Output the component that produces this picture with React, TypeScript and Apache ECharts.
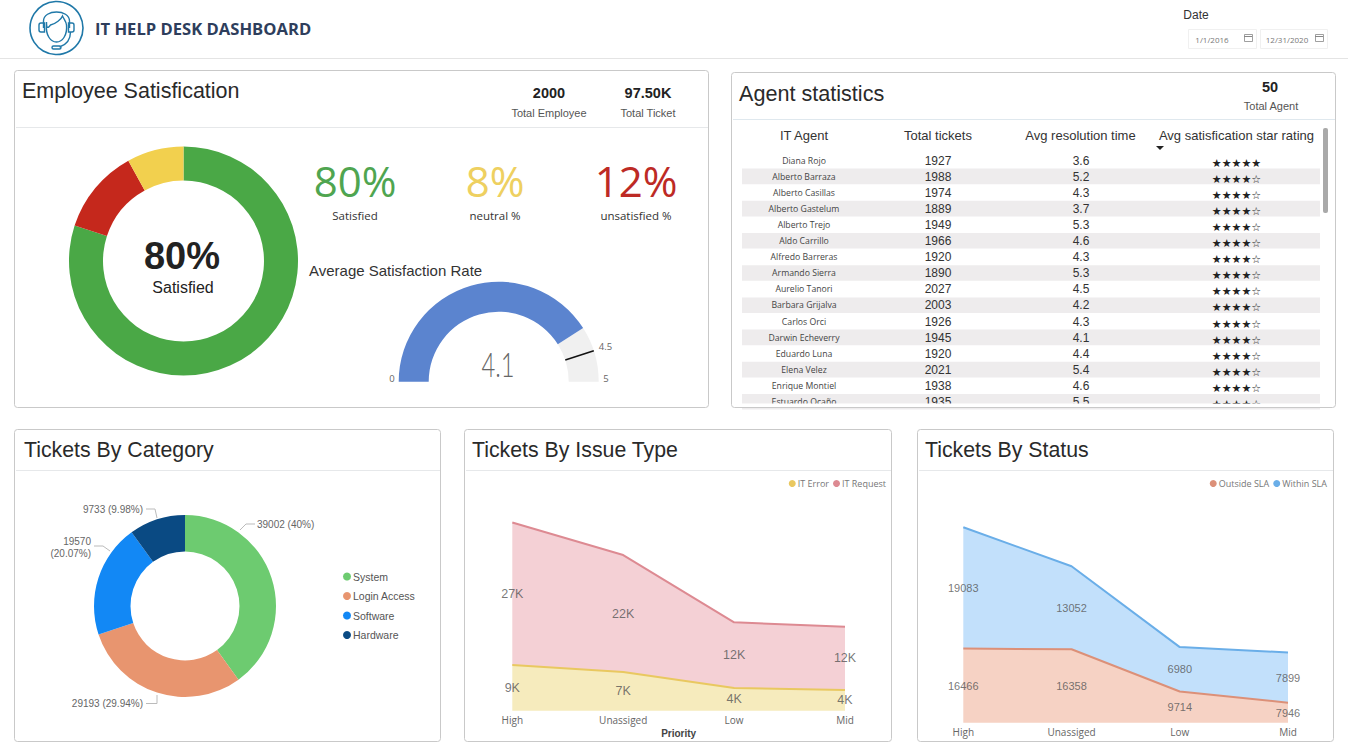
import React, { useEffect, useRef } from "react";
import * as echarts from "echarts";

const satisfactionNames = ["Satisfied", "Unsatisfied", "Neutral"];
const satisfactionValues = [80, 12, 8];
const satisfactionColors = ["#4aa846", "#c5281c", "#f2d04e"];

const gaugeValue = 4.1;
const gaugeTarget = 4.5;
const gaugeMax = 5;

const agents = ["Diana Rojo", "Alberto Barraza", "Alberto Casillas", "Alberto Gastelum", "Alberto Trejo", "Aldo Carrillo", "Alfredo Barreras", "Armando Sierra", "Aurelio Tanori", "Barbara Grijalva", "Carlos Orci", "Darwin Echeverry", "Eduardo Luna", "Elena Velez", "Enrique Montiel", "Estuardo Ocaño"];
const agentTickets = [1927, 1988, 1974, 1889, 1949, 1966, 1920, 1890, 2027, 2003, 1926, 1945, 1920, 2021, 1938, 1935];
const agentResolution = ["3.6", "5.2", "4.3", "3.7", "5.3", "4.6", "4.3", "5.3", "4.5", "4.2", "4.3", "4.1", "4.4", "5.4", "4.6", "5.5"];
const agentStars = [5, 4, 4, 4, 4, 4, 4, 4, 4, 4, 4, 4, 4, 4, 4, 4];
const tableHeaders = ["IT Agent", "Total tickets", "Avg resolution time", "Avg satisfication star rating"];

const categoryNames = ["System", "Login Access", "Software", "Hardware"];
const categoryValues = [39002, 29193, 19570, 9733];
const categoryColors = ["#6dcb70", "#e8956f", "#1288f5", "#0a4a83"];

const priorities = ["High", "Unassiged", "Low", "Mid"];
const itError = [8640, 7320, 4300, 3900];
const itRequest = [26909, 22090, 12394, 11945];
const outsideSla = [16466, 16358, 9714, 7946];
const withinSla = [19083, 13052, 6980, 7899];

const SANS = "'Liberation Sans', Arial, sans-serif";
const OPEN = "'Open Sans', sans-serif";
const LOGO_D =
  "M14 20 C14 8 40 8 40 20 L40 27 M14 27 L14 20 " +
  "M17 21 C17 27 18 28 21 24 C26 23 32 18 33 15 C35 19 37 21 37 24 C38 34 33 41 27 41 C21 41 16 34 17 24 L17 21 " +
  "M11.5 22 L15 22 L15 31 L11.5 31 C10 31 9.5 30 9.5 29 L9.5 24 C9.5 23 10 22 11.5 22 Z " +
  "M39 22 L42.5 22 C44 22 44.5 23 44.5 24 L44.5 29 C44.5 30 44 31 42.5 31 L39 31 Z " +
  "M41 31 C41 40 36 44 30 46 M24 45 L30 45 C32 45 32 48 30 48 L24 48 C22 48 22 45 24 45 Z";

const txt = (x: number, y: number, text: string, fontSize: number, fill: string, o: any = {}) => ({
  type: "text",
  z: o.z ?? 5,
  silent: true,
  style: {
    x, y, text, fontSize, fill,
    fontFamily: o.font ?? SANS,
    fontWeight: o.weight ?? "normal",
    align: o.align ?? "center",
    verticalAlign: "middle",
    textAlign: o.align ?? "center",
    textVerticalAlign: "middle",
  },
});

const panel = (x: number, y: number, width: number, height: number, divider: number, dividerColor = "#e6e8ea") => [
  { type: "line", z: 1, silent: true, shape: { x1: x + 1, y1: divider + 0.5, x2: x + width - 1, y2: divider + 0.5 }, style: { stroke: dividerColor, lineWidth: 1 } },
  { type: "rect", z: 9, silent: true, shape: { x: x - 0.5, y: y - 0.5, width, height, r: 3 }, style: { fill: "none", stroke: "#c9c9c9", lineWidth: 1 } },
];

const dateBox = (x: number, width: number, label: string, textX: number, iconX: number) => [
  { type: "rect", z: 1, silent: true, shape: { x: x + 0.5, y: 29.5, width, height: 19 }, style: { fill: "#fff", stroke: "#f0f0f0", lineWidth: 1 } },
  txt(textX, 39, label, 8, "#777777", { font: OPEN }),
  { type: "rect", z: 5, silent: true, shape: { x: iconX + 0.5, y: 34.5, width: 8, height: 7 }, style: { fill: "none", stroke: "#888", lineWidth: 0.8 } },
  { type: "line", z: 5, silent: true, shape: { x1: iconX, y1: 36.5, x2: iconX + 8, y2: 36.5 }, style: { stroke: "#888", lineWidth: 1 } },
];

const ROW_TOP = 160.5;
const ROW_STEP = 16.1;
const tableGraphics = () => {
  const items: any[] = [];
  const headerX = [804, 938, 1080.5, 1236.5];
  tableHeaders.forEach((h, i) => items.push(txt(headerX[i], 135.5, h, 13, "#333333")));
  agents.forEach((name, i) => {
    const y = ROW_TOP + i * ROW_STEP;
    if (i % 2 === 1) {
      items.push({ type: "rect", z: 1, silent: true, shape: { x: 742, y: y - 8, width: 578, height: 15.6 }, style: { fill: "#eeeced" } });
    }
    items.push(txt(804, y, name, 8.7, "#444444", { font: OPEN }));
    items.push(txt(938, y, String(agentTickets[i]), 12, "#333333"));
    items.push(txt(1081, y, agentResolution[i], 12, "#333333"));
    items.push(txt(1236.5, y + 2.5, "★".repeat(agentStars[i]) + "☆".repeat(5 - agentStars[i]), 11, "#222222", { font: "'DejaVu Sans', sans-serif" }));
  });
  items.push({ type: "rect", z: 7, silent: true, shape: { x: 734, y: 403.5, width: 600, height: 4 }, style: { fill: "#ffffff" } });
  items.push({ type: "rect", z: 7, silent: true, shape: { x: 1323, y: 128, width: 5, height: 85, r: 2 }, style: { fill: "#a9a9a9" } });
  items.push({ type: "polygon", z: 7, silent: true, shape: { points: [[1156, 146], [1164, 146], [1160, 150]] }, style: { fill: "#222" } });
  return items;
};

const bandLabels = (values: number[], below: number[] | null, axisMin: number) =>
  values.map((v, i) => {
    const base = below ? below[i] : 0;
    const low = below ? base : axisMin;
    return { value: [i, (low + base + v) / 2, v] };
  });

const k = (v: number) => `${Math.round(v / 1000)}K`;

const area = (name: string, values: number[], idx: number, line: string, fill: string, stack: string) => ({
  name, type: "line", stack, data: values, xAxisIndex: idx, yAxisIndex: idx, symbol: "none",
  color: line, lineStyle: { color: line, width: 2 }, areaStyle: { color: fill, opacity: 1 }, silent: true, clip: false,
});

const bandSeries = (idx: number, data: any[], fontSize: number, format: (v: number) => string, id: string) => ({
  name: id, type: "scatter", xAxisIndex: idx, yAxisIndex: idx, symbolSize: 1, z: 6, silent: true,
  itemStyle: { color: "transparent" }, data,
  label: { show: true, position: "inside", color: "#555555", fontSize, fontFamily: SANS, formatter: (p: any) => format(p.value[2]) },
});

const catAxis = (gridIndex: number, extra: any = {}) => ({
  type: "category", gridIndex, data: priorities, boundaryGap: false,
  axisLine: { show: false }, axisTick: { show: false },
  axisLabel: { color: "#666666", fontSize: 10, fontFamily: OPEN, interval: 0, margin: 4 },
  ...extra,
});

const legendBase = { icon: "circle", itemWidth: 7, itemHeight: 7, itemGap: 4, orient: "horizontal", selectedMode: false, textStyle: { color: "#777777", fontSize: 9, fontFamily: OPEN, padding: [0, 0, 0, -3] } };

const categoryTotal = categoryValues.reduce((a, b) => a + b, 0);
const categoryLabel = (p: any) => {
  const share = +((p.value / categoryTotal) * 100).toFixed(2);
  return `${p.value}${p.dataIndex === 2 ? "\n" : " "}(${share}%)`;
};

export default function App() {
  const ref = useRef<HTMLDivElement>(null);
  useEffect(() => {
    document.body.style.margin = "0";
    document.documentElement.style.overflow = "hidden";
    echarts.graphic.registerShape("logo", echarts.graphic.extendPath(LOGO_D as any, {}));
    const chart = echarts.init(ref.current!, undefined, { renderer: "svg" });
    const labelSpots: any[] = [
      { x: 257, y: 524, align: "left", verticalAlign: "middle", labelLinePoints: [[240, 530], [246, 524], [255, 524]] },
      { x: 143, y: 703.5, align: "right", verticalAlign: "middle", labelLinePoints: [[157, 695], [157, 703.5], [146, 703.5]] },
      { x: 91, y: 547, align: "right", verticalAlign: "middle", labelLinePoints: [[110, 551], [103, 546], [94, 546]] },
      { x: 143, y: 509, align: "right", verticalAlign: "middle", labelLinePoints: [[157, 518], [155, 509], [146, 509]] },
    ];
    chart.setOption({
      animation: false,
      backgroundColor: "#ffffff",
      legend: [
        { ...legendBase, orient: "vertical", left: 338, top: 566, itemWidth: 8, itemHeight: 8, itemGap: 8.5, data: categoryNames, textStyle: { color: "#555555", fontSize: 10.5, fontFamily: SANS, padding: [0, 0, 0, -3] } },
        { ...legendBase, right: 457, top: 474, data: ["IT Error", "IT Request"] },
        { ...legendBase, right: 16, top: 474, data: ["Outside SLA", "Within SLA"] },
      ],
      grid: [
        { left: 512.3, width: 332.7, top: 499, height: 211.7 },
        { left: 963.3, width: 324.7, top: 499, height: 223.7 },
      ],
      xAxis: [
        catAxis(0, { name: "Priority", nameLocation: "middle", nameGap: 17.5, nameTextStyle: { color: "#444444", fontSize: 10, fontWeight: "bold", fontFamily: SANS } }),
        catAxis(1),
      ],
      yAxis: [
        { type: "value", gridIndex: 0, show: false, min: 0, max: 40000 },
        { type: "value", gridIndex: 1, show: false, min: 4800, max: 40000 },
      ],
      series: [
        {
          name: "Satisfaction", type: "pie", center: [183.5, 261], radius: [80.5, 114.5], silent: true,
          label: { show: false }, labelLine: { show: false },
          data: satisfactionNames.map((name, i) => ({ name, value: satisfactionValues[i], itemStyle: { color: satisfactionColors[i] } })),
        },
        {
          name: "Average rate", type: "gauge", center: [498.7, 381.7], radius: 100, startAngle: 180, endAngle: 0, min: 0, max: gaugeMax, silent: true,
          axisLine: { roundCap: false, lineStyle: { width: 30, color: [[gaugeValue / gaugeMax, "#5b84cf"], [1, "#f0f0f0"]] } },
          axisTick: { show: false }, splitLine: { show: false }, axisLabel: { show: false }, pointer: { show: false }, title: { show: false }, detail: { show: false },
          data: [{ value: gaugeValue }],
        },
        {
          name: "Target", type: "gauge", center: [498.7, 381.7], radius: 100, startAngle: 180, endAngle: 0, min: 0, max: gaugeMax, silent: true, z: 4,
          axisLine: { show: false }, axisTick: { show: false }, splitLine: { show: false }, axisLabel: { show: false }, title: { show: false }, detail: { show: false },
          pointer: { show: true, icon: "rect", length: "30%", width: 1.5, offsetCenter: [0, "-70%"], itemStyle: { color: "#111111" } },
          data: [{ value: gaugeTarget }],
        },
        {
          name: "Tickets By Category", type: "pie", center: [185, 606], radius: [54.5, 91], silent: true,
          label: { show: true, formatter: categoryLabel, color: "#666666", fontSize: 10, fontFamily: SANS, lineHeight: 12 },
          labelLine: { show: true, length: 8, length2: 8, lineStyle: { color: "#bbbbbb", width: 1 } },
          labelLayout: (p: any) => labelSpots[p.dataIndex],
          data: categoryNames.map((name, i) => ({ name, value: categoryValues[i], itemStyle: { color: categoryColors[i] } })),
        },
        area("IT Error", itError, 0, "#e9c860", "#f6ebbd", "issue"),
        area("IT Request", itRequest, 0, "#dd8a92", "#f4d0d5", "issue"),
        bandSeries(0, bandLabels(itError, null, 0), 12.5, k, "issue-low"),
        bandSeries(0, bandLabels(itRequest, itError, 0), 12.5, k, "issue-high"),
        area("Outside SLA", outsideSla, 1, "#dc9078", "#f6d2c4", "status"),
        area("Within SLA", withinSla, 1, "#6aaee8", "#c2e0fb", "status"),
        bandSeries(1, bandLabels(outsideSla, null, 4800), 11, String, "status-low"),
        bandSeries(1, bandLabels(withinSla, outsideSla, 4800), 11, String, "status-high"),
      ],
      graphic: [
        { type: "line", z: 1, silent: true, shape: { x1: 0, y1: 58.5, x2: 1348, y2: 58.5 }, style: { stroke: "#e4e4e4", lineWidth: 1 } },
        { type: "circle", z: 5, silent: true, shape: { cx: 56.5, cy: 28, r: 26.5 }, style: { fill: "#fff", stroke: "#1f78a8", lineWidth: 1.6 } },
        { type: "logo", z: 6, silent: true, x: 29.5, y: 1, style: { fill: "none", stroke: "#1f78a8", lineWidth: 1.4 } },
        txt(95, 28, "IT HELP DESK DASHBOARD", 16.6, "#2e3e5c", { font: OPEN, weight: "bold", align: "left" }),
        txt(1196, 15, "Date", 12, "#333333"),
        ...dateBox(1188, 68, "1/1/2016", 1212, 1244),
        ...dateBox(1260, 67, "12/31/2020", 1287, 1315),

        ...panel(15, 71, 694, 337, 127),
        txt(22, 91, "Employee Satisfication", 21.5, "#2a2a2a", { align: "left" }),
        txt(549, 93, "2000", 14.5, "#222222", { weight: "bold" }),
        txt(549, 112.5, "Total Employee", 11, "#555555"),
        txt(648, 93, "97.50K", 14.5, "#222222", { weight: "bold" }),
        txt(648, 113, "Total Ticket", 11, "#555555"),
        txt(182, 256, "80%", 38, "#222222", { weight: "bold" }),
        txt(183, 287, "Satisfied", 16, "#222222"),
        txt(355, 180.5, "80%", 42, "#4fa550", { font: OPEN }),
        txt(495, 180.5, "8%", 42, "#eed060", { font: OPEN }),
        txt(636, 180.5, "12%", 42, "#bd2a25", { font: OPEN }),
        txt(355, 215.5, "Satisfied", 11.5, "#333333", { font: OPEN }),
        txt(495, 215.5, "neutral %", 11.5, "#333333", { font: OPEN }),
        txt(636, 215.5, "unsatisfied %", 11.5, "#333333", { font: OPEN }),
        txt(309, 270, "Average Satisfaction Rate", 15, "#333333", { align: "left" }),
        { ...txt(0, 0, gaugeValue.toFixed(1), 34, "#666666", { font: "Lato, sans-serif", weight: 300 }), x: 498, y: 364, scaleX: 0.7 },
        txt(392, 378, "0", 9.5, "#666666", { font: OPEN }),
        txt(606, 378, "5", 9.5, "#666666", { font: OPEN }),
        txt(605.5, 346, gaugeTarget.toFixed(1), 9.5, "#666666", { font: OPEN }),

        ...panel(732, 73, 604, 335, 119, "#dfe8ee"),
        txt(739, 93, "Agent statistics", 21.6, "#2a2a2a", { align: "left" }),
        txt(1270, 87, "50", 14.5, "#222222", { weight: "bold" }),
        txt(1271, 106, "Total Agent", 11, "#555555"),
        ...tableGraphics(),

        ...panel(15, 430, 426, 312, 470),
        txt(24, 450, "Tickets By Category", 21.3, "#2a2a2a", { align: "left" }),
        ...panel(465, 430, 427, 312, 470),
        txt(472, 450, "Tickets By Issue Type", 21.3, "#2a2a2a", { align: "left" }),
        ...panel(918, 430, 416, 312, 470),
        txt(925, 450, "Tickets By Status", 21.3, "#2a2a2a", { align: "left" }),
      ],
    });
    return () => chart.dispose();
  }, []);
  return <div ref={ref} style={{ width: 1348, height: 751 }} />;
}
